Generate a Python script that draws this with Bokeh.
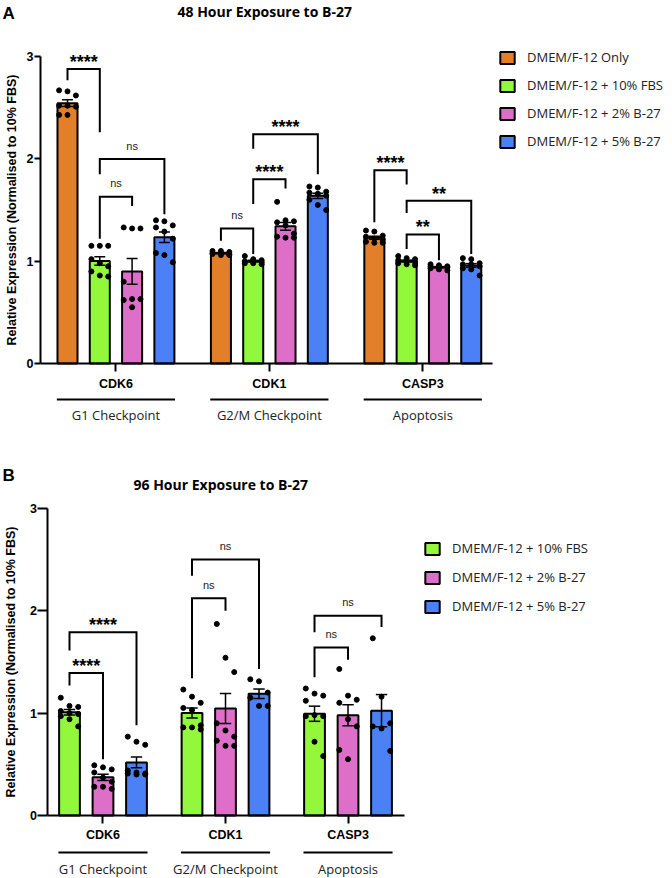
import numpy as np
from bokeh.plotting import figure
from bokeh.models import Range1d, FixedTicker, Label, Legend, LegendItem
from bokeh.layouts import column
from bokeh.embed import file_html
from bokeh.resources import INLINE
from bokeh.core.properties import value

# ---------------- data ----------------
GENES = ["CDK6", "CDK1", "CASP3"]
PATHWAYS = ["G1 Checkpoint", "G2/M Checkpoint", "Apoptosis"]

# Panel A: 48 h
SERIES_A = ["DMEM/F-12 Only", "DMEM/F-12 + 10% FBS", "DMEM/F-12 + 2% B-27", "DMEM/F-12 + 5% B-27"]
A_ONLY = [[2.67, 2.66, 2.62, 2.52, 2.52, 2.51, 2.43, 2.43],
          [1.10, 1.10, 1.09, 1.08, 1.08, 1.07, 1.07, 1.06, 1.06],
          [1.30, 1.29, 1.25, 1.24, 1.22, 1.21, 1.19, 1.18, 1.18]]
A_FBS10 = [[1.15, 1.15, 1.15, 1.02, 0.98, 0.95, 0.90, 0.86, 0.85],
           [1.05, 1.02, 1.01, 1.00, 1.00, 0.99, 0.98, 0.98, 0.97],
           [1.05, 1.03, 1.02, 1.01, 1.00, 0.99, 0.98, 0.97, 0.96]]
A_B27_2 = [[1.33, 1.32, 1.32, 0.80, 0.63, 0.63, 0.62, 0.55],
           [1.58, 1.40, 1.39, 1.38, 1.35, 1.27, 1.24, 1.23, 1.23],
           [0.97, 0.96, 0.95, 0.95, 0.94, 0.94, 0.93, 0.92, 0.91]]
A_B27_5 = [[1.40, 1.39, 1.35, 1.33, 1.29, 1.22, 1.08, 1.06, 0.99],
           [1.73, 1.72, 1.68, 1.67, 1.66, 1.64, 1.60, 1.55, 1.50],
           [1.03, 1.02, 0.98, 0.97, 0.97, 0.95, 0.93, 0.92, 0.86]]
# (gene, left bar, right bar, bracket top, left leg end, right leg end, label)
BRACKETS_A = [("CDK6", 0, 1, 2.88, 2.77, 2.26, "****"),
              ("CDK6", 1, 3, 2.00, 1.85, 1.46, "ns"),
              ("CDK6", 1, 2, 1.63, 1.22, 1.54, "ns"),
              ("CDK1", 0, 1, 1.32, 1.20, 1.07, "ns"),
              ("CDK1", 1, 2, 1.80, 1.56, 1.71, "****"),
              ("CDK1", 1, 3, 2.24, 2.10, 1.85, "****"),
              ("CASP3", 0, 1, 1.89, 1.38, 1.75, "****"),
              ("CASP3", 1, 2, 1.26, 1.12, 1.01, "**"),
              ("CASP3", 1, 3, 1.59, 1.47, 1.07, "**")]

# Panel B: 96 h
SERIES_B = ["DMEM/F-12 + 10% FBS", "DMEM/F-12 + 2% B-27", "DMEM/F-12 + 5% B-27"]
B_FBS10 = [[1.15, 1.07, 1.06, 1.02, 1.00, 0.99, 0.97, 0.94, 0.87],
           [1.23, 1.16, 1.10, 1.05, 1.03, 0.88, 0.86, 0.86, 0.84],
           [1.24, 1.19, 1.17, 1.12, 0.98, 0.97, 0.97, 0.72, 0.58]]
B_B27_2 = [[0.49, 0.47, 0.45, 0.42, 0.37, 0.33, 0.28, 0.28, 0.26],
           [1.87, 1.54, 1.40, 0.90, 0.83, 0.77, 0.73, 0.68, 0.68],
           [1.43, 1.17, 1.13, 1.10, 0.94, 0.87, 0.64, 0.55]]
B_B27_5 = [[0.77, 0.72, 0.69, 0.44, 0.42, 0.41, 0.41, 0.40, 0.40],
           [1.33, 1.31, 1.20, 1.15, 1.07, 1.07],
           [1.73, 1.16, 0.90, 0.87, 0.85, 0.63]]
BRACKETS_B = [("CDK6", 0, 1, 1.39, 1.27, 0.55, "****"),
              ("CDK6", 0, 2, 1.79, 1.61, 0.88, "****"),
              ("CDK1", 0, 1, 2.12, 1.34, 2.00, "ns"),
              ("CDK1", 0, 2, 2.50, 2.34, 1.43, "ns"),
              ("CASP3", 0, 1, 1.64, 1.35, 1.52, "ns"),
              ("CASP3", 0, 2, 1.95, 1.79, 1.84, "ns")]

ORANGE, GREEN, PINK, BLUE = "#E27F28", "#93F83C", "#DD6FC9", "#4B80F6"
COLORS_A = [ORANGE, GREEN, PINK, BLUE]
COLORS_B = [GREEN, PINK, BLUE]

AX_FONT = "Liberation Sans"
TXT_FONT = "Open Sans"
YLABEL = "Relative Expression (Normalised to 10% FBS)"


def build_panel(letter, title, series, colors, data, brackets, G, geo):
    n = len(series)
    p = figure(width=geo["width"], height=geo["height"], output_backend="svg",
               toolbar_location=None, x_range=Range1d(*geo["xr"]), y_range=Range1d(*geo["yr"]),
               min_border=0, min_border_left=0, min_border_right=0, min_border_bottom=0,
               min_border_top=0, outline_line_color=None)
    p.xgrid.visible = False
    p.ygrid.visible = False
    p.background_fill_color = "white"
    p.border_fill_color = "white"

    def xpos(g, i):
        return g * G + i

    centers = [round(xpos(g, (n - 1) / 2), 4) for g in range(len(GENES))]

    # bars, error bars, replicate points
    items = []
    pat = [-0.26, 0.0, 0.26]
    for si, (name, col) in enumerate(zip(series, colors)):
        xs = [xpos(g, si) for g in range(len(GENES))]
        means = [float(np.mean(v)) for v in data[si]]
        sems = [float(np.std(v, ddof=1) / np.sqrt(len(v))) for v in data[si]]
        r = p.vbar(x=xs, top=means, bottom=0, width=0.62, fill_color=col,
                   line_color="black", line_width=2)
        items.append(LegendItem(label=name, renderers=[r]))
        lo = [m - s for m, s in zip(means, sems)]
        hi = [m + s for m, s in zip(means, sems)]
        p.segment(x0=xs, x1=xs, y0=lo, y1=hi, line_color="black", line_width=1.5)
        cw = 0.17
        p.segment(x0=[x - cw for x in xs] * 2, x1=[x + cw for x in xs] * 2,
                  y0=lo + hi, y1=lo + hi, line_color="black", line_width=1.5)
        px, py = [], []
        for g, vals in enumerate(data[si]):
            for k, v in enumerate(vals):
                px.append(xs[g] + pat[k % 3])
                py.append(v)
        p.scatter(px, py, size=5, fill_color="black", line_color="black")

    # significance brackets
    bx, by, sx, sy, st, nx, ny, nt = [], [], [], [], [], [], [], []
    for gene, i1, i2, top, l_end, r_end, lab in brackets:
        g = GENES.index(gene)
        x1, x2 = xpos(g, i1), xpos(g, i2)
        bx.append([x1, x1, x2, x2])
        by.append([l_end, top, top, r_end])
        if lab == "ns":
            nx.append((x1 + x2) / 2); ny.append(top + 0.13); nt.append(lab)
        else:
            sx.append((x1 + x2) / 2); sy.append(top + 0.07); st.append(lab)
    p.multi_line(xs=bx, ys=by, line_color="black", line_width=2, line_join="miter")
    p.text(x=sx, y=sy, text=st, text_font=value(AX_FONT), text_font_style="bold",
           text_font_size="18px", text_align="center", text_baseline="middle", text_color="black")
    p.text(x=nx, y=ny, text=nt, text_font=value(AX_FONT), text_font_size="11px",
           text_align="center", text_baseline="middle", text_color="#222222")

    # pathway underline + labels
    hw = n / 2 - 0.17
    p.segment(x0=[c - hw for c in centers], x1=[c + hw for c in centers],
              y0=[geo["uy"]] * 3, y1=[geo["uy"]] * 3, line_color="black", line_width=2)
    p.text(x=centers, y=[geo["ly"]] * 3, text=PATHWAYS, text_font=value(TXT_FONT),
           text_font_size="13px", text_align="center", text_baseline="middle", text_color="#222222")

    # x axis (fixed at y = 0)
    xa = p.xaxis[0]
    xa.fixed_location = 0
    xa.bounds = (geo["yaxis_x"], geo["axis_end"])
    xa.ticker = FixedTicker(ticks=centers)
    xa.major_label_overrides = {c: gname for c, gname in zip(centers, GENES)}
    xa.axis_line_width = 2
    xa.major_tick_line_width = 2
    xa.major_tick_out = 8
    xa.major_tick_in = 0
    xa.minor_tick_out = 0
    xa.minor_tick_in = 0
    xa.major_label_standoff = 5
    xa.major_label_text_font = AX_FONT
    xa.major_label_text_font_style = "bold"
    xa.major_label_text_font_size = "12.5px"
    xa.major_label_text_color = "black"

    # y axis (fixed at left of first group)
    ya = p.yaxis[0]
    ya.fixed_location = geo["yaxis_x"]
    ya.bounds = (0, 3)
    ya.ticker = FixedTicker(ticks=[0, 1, 2, 3])
    ya.axis_line_width = 2
    ya.major_tick_line_width = 2
    ya.major_tick_out = geo["ytick"]
    ya.major_tick_in = 0
    ya.minor_tick_out = 0
    ya.minor_tick_in = 0
    ya.major_label_standoff = 1
    ya.major_label_text_font = AX_FONT
    ya.major_label_text_font_style = "bold"
    ya.major_label_text_font_size = "12.5px"
    ya.major_label_text_color = "black"
    ya.axis_label = YLABEL
    ya.axis_label_standoff = geo["ylab_standoff"]
    ya.axis_label_text_font = AX_FONT
    ya.axis_label_text_font_style = "bold"
    ya.axis_label_text_font_size = "12.5px"
    ya.axis_label_text_color = "black"

    leg = Legend(items=items, location=geo["legend_loc"], padding=0, margin=0,
                 spacing=geo["leg_spacing"], glyph_width=18, glyph_height=15,
                 label_height=15, label_standoff=11, border_line_color=None,
                 background_fill_alpha=0, label_text_font=TXT_FONT,
                 label_text_font_size="13px", label_text_color="#222222")
    p.add_layout(leg)

    p.add_layout(Label(x=geo["title_xy"][0], y=geo["title_xy"][1], x_units="screen",
                       y_units="screen", text=title, text_font=TXT_FONT, text_font_style="bold",
                       text_font_size="14px", text_baseline="middle", text_color="black"))
    p.add_layout(Label(x=geo["letter_xy"][0], y=geo["letter_xy"][1], x_units="screen",
                       y_units="screen", text=letter, text_font=AX_FONT, text_font_style="bold",
                       text_font_size="17px", text_baseline="top", text_color="black"))
    return p


# figure A covers page y 0..438, figure B page y 438..878 (x 0..672)
GEO_A = dict(width=672, height=438, xr=(-2.0743, 18.731), yr=(-0.7331, 3.5484),
             yaxis_x=-0.836, axis_end=13.16, ytick=6, ylab_standoff=5,
             uy=-0.352, ly=-0.50, legend_loc=(498, 288), leg_spacing=10,
             title_xy=(177, 427), letter_xy=(2, 435))
GEO_B = dict(width=672, height=440, xr=(-2.0597, 18.0), yr=(-0.6151, 3.6806),
             yaxis_x=-0.642, axis_end=10.0, ytick=10, ylab_standoff=9,
             uy=-0.361, ly=-0.518, legend_loc=(423, 263), leg_spacing=11,
             title_xy=(133, 394), letter_xy=(2, 413))

pA = build_panel("A", "48 Hour Exposure to B-27", SERIES_A, COLORS_A,
                 [A_ONLY, A_FBS10, A_B27_2, A_B27_5], BRACKETS_A, 4.75, GEO_A)
pB = build_panel("B", "96 Hour Exposure to B-27", SERIES_B, COLORS_B,
                 [B_FBS10, B_B27_2, B_B27_5], BRACKETS_B, 3.657, GEO_B)

layout = column(pA, pB, spacing=0)
open("out.html", "w").write(file_html(layout, INLINE))
